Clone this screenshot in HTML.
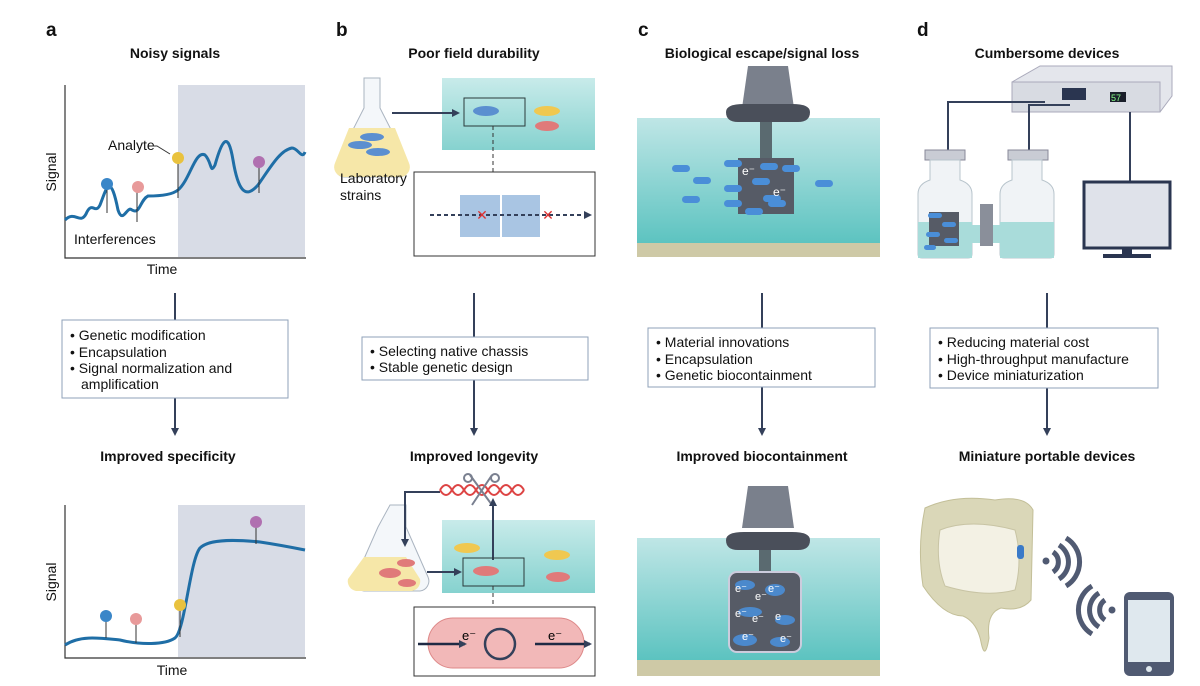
<!DOCTYPE html>
<html><head><meta charset="utf-8"><style>
html,body{margin:0;padding:0;background:#fff;}
svg{display:block;font-family:"Liberation Sans",Arial,sans-serif;}
.t{font-weight:bold;font-size:14px;text-anchor:middle;fill:#111;}
.L{font-weight:bold;font-size:19px;fill:#111;}
.s{font-size:14px;fill:#111;}
.b{font-size:14px;fill:#111;}
</style></head><body>
<svg width="1200" height="686" viewBox="0 0 1200 686" xmlns="http://www.w3.org/2000/svg">
<defs>
<linearGradient id="w" x1="0" y1="0" x2="0" y2="1"><stop offset="0" stop-color="#bfe6e6"/><stop offset="1" stop-color="#5cc3c0"/></linearGradient>
<linearGradient id="w2" x1="0" y1="0" x2="0" y2="1"><stop offset="0" stop-color="#c8ebea"/><stop offset="1" stop-color="#86d2cf"/></linearGradient>
<marker id="ar" markerWidth="8" markerHeight="8" refX="6" refY="4" orient="auto" markerUnits="userSpaceOnUse"><path d="M0,0 L8,4 L0,8z" fill="#34405a"/></marker>
</defs>
<text class="L" x="46" y="36">a</text><text class="L" x="336" y="36">b</text><text class="L" x="638" y="36">c</text><text class="L" x="917" y="36">d</text>
<text class="t" x="175" y="58">Noisy signals</text>
<text class="t" x="474" y="58">Poor field durability</text>
<text class="t" x="762" y="58">Biological escape/signal loss</text>
<text class="t" x="1047" y="58">Cumbersome devices</text>
<text class="t" x="168" y="461">Improved specificity</text>
<text class="t" x="474" y="461">Improved longevity</text>
<text class="t" x="762" y="461">Improved biocontainment</text>
<text class="t" x="1047" y="461">Miniature portable devices</text>

<!-- panel a top -->
<rect x="178" y="85" width="127" height="172" fill="#d8dce6"/>
<path d="M65,85 V258 H306" fill="none" stroke="#333" stroke-width="1.2"/>
<text class="s" x="56" y="172" transform="rotate(-90 56 172)" text-anchor="middle">Signal</text>
<text class="s" x="162" y="274" text-anchor="middle">Time</text>
<text class="s" x="74" y="244">Interferences</text>
<text class="s" x="108" y="150">Analyte</text>
<path d="M150,146 H157 L170,154" fill="none" stroke="#333"/>
<path d="M65,220 C75,210 80,225 86,214 C92,200 95,215 100,205 C106,190 110,170 118,210 C123,225 127,205 132,210 C140,215 140,200 148,196 C160,196 172,195 178,190 C190,180 195,150 205,155 C212,162 210,175 215,165 C222,140 228,130 233,160 C238,190 245,200 258,185 C270,168 280,150 292,148 C298,148 302,160 305,152" fill="none" stroke="#1f6ea6" stroke-width="3"/>
<g stroke="#333"><line x1="107" y1="186" x2="107" y2="213"/><line x1="137" y1="187" x2="137" y2="222"/><line x1="178" y1="160" x2="178" y2="198"/><line x1="259" y1="163" x2="259" y2="193"/></g>
<circle cx="107" cy="184" r="6" fill="#3a86c8"/><circle cx="138" cy="187" r="6" fill="#e89a9a"/><circle cx="178" cy="158" r="6" fill="#e9c23e"/><circle cx="259" cy="162" r="6" fill="#b070b0"/>

<!-- panel a bottom -->
<rect x="178" y="505" width="127" height="152" fill="#d8dce6"/>
<path d="M65,505 V658 H306" fill="none" stroke="#333" stroke-width="1.2"/>
<text class="s" x="56" y="582" transform="rotate(-90 56 582)" text-anchor="middle">Signal</text>
<text class="s" x="172" y="675" text-anchor="middle">Time</text>
<path d="M65,645 C80,635 100,638 120,640 C140,645 165,645 175,638 C185,630 190,560 200,548 C210,538 240,540 260,542 C280,545 295,548 305,550" fill="none" stroke="#1f6ea6" stroke-width="3"/>
<g stroke="#333"><line x1="106" y1="617" x2="106" y2="638"/><line x1="136" y1="620" x2="136" y2="643"/><line x1="180" y1="605" x2="180" y2="637"/><line x1="256" y1="523" x2="256" y2="544"/></g>
<circle cx="106" cy="616" r="6" fill="#3a86c8"/><circle cx="136" cy="619" r="6" fill="#e89a9a"/><circle cx="180" cy="605" r="6" fill="#e9c23e"/><circle cx="256" cy="522" r="6" fill="#b070b0"/>

<!-- connectors & boxes -->
<g stroke="#34405a" stroke-width="2" fill="none">
<line x1="175" y1="293" x2="175" y2="434" marker-end="url(#ar)"/>
<line x1="474" y1="293" x2="474" y2="434" marker-end="url(#ar)"/>
<line x1="762" y1="293" x2="762" y2="434" marker-end="url(#ar)"/>
<line x1="1047" y1="293" x2="1047" y2="434" marker-end="url(#ar)"/>
</g>
<g fill="#fff" stroke="#8fa2b8" stroke-width="1">
<rect x="62" y="320" width="226" height="78"/>
<rect x="362" y="337" width="226" height="43"/>
<rect x="648" y="328" width="227" height="59"/>
<rect x="930" y="328" width="228" height="60"/>
</g>
<text class="b" x="70" y="340">• Genetic modification</text>
<text class="b" x="70" y="357">• Encapsulation</text>
<text class="b" x="70" y="373">• Signal normalization and</text>
<text class="b" x="81" y="389">amplification</text>
<text class="b" x="370" y="356">• Selecting native chassis</text>
<text class="b" x="370" y="372">• Stable genetic design</text>
<text class="b" x="656" y="347">• Material innovations</text>
<text class="b" x="656" y="364">• Encapsulation</text>
<text class="b" x="656" y="380">• Genetic biocontainment</text>
<text class="b" x="938" y="347">• Reducing material cost</text>
<text class="b" x="938" y="364">• High-throughput manufacture</text>
<text class="b" x="938" y="380">• Device miniaturization</text>

<!-- panel b top -->
<path d="M364,78 h16 v30 l28,55 a10,10 0 0 1 -8,14 h-56 a10,10 0 0 1 -8,-14 l28,-55z" fill="#f4f7fa" stroke="#aab4c0"/>
<path d="M349,128 h46 l14,35 a10,10 0 0 1 -8,14 h-58 a10,10 0 0 1 -8,-14z" fill="#f6e7a8"/>
<ellipse cx="372" cy="137" rx="12" ry="4" fill="#5b8fd0"/><ellipse cx="360" cy="145" rx="12" ry="4" fill="#5b8fd0"/><ellipse cx="378" cy="152" rx="12" ry="4" fill="#5b8fd0"/>
<text class="s" x="340" y="183">Laboratory</text><text class="s" x="340" y="200">strains</text>
<rect x="442" y="78" width="153" height="72" fill="url(#w2)"/>
<line x1="392" y1="113" x2="458" y2="113" stroke="#34405a" stroke-width="2" marker-end="url(#ar)"/>
<rect x="464" y="98" width="61" height="28" fill="none" stroke="#2a3a3a"/>
<ellipse cx="486" cy="111" rx="13" ry="5" fill="#5b8fd0"/>
<ellipse cx="547" cy="111" rx="13" ry="5" fill="#f0c850"/><ellipse cx="547" cy="126" rx="12" ry="5" fill="#e07a7a"/>
<line x1="493" y1="126" x2="493" y2="172" stroke="#333" stroke-dasharray="4 3"/>
<rect x="414" y="172" width="181" height="84" fill="#fff" stroke="#333"/>
<rect x="460" y="195" width="40" height="42" fill="#a9c5e3"/><rect x="502" y="195" width="38" height="42" fill="#a9c5e3"/>
<path d="M430,215 H590" stroke="#34405a" stroke-width="2" stroke-dasharray="4 3" marker-end="url(#ar)"/>
<text x="482" y="220" fill="#d33" font-size="14" text-anchor="middle">✕</text><text x="548" y="220" fill="#d33" font-size="14" text-anchor="middle">✕</text>

<!-- panel b bottom -->
<path d="M390,505 h16 v22 l22,50 a10,10 0 0 1 -8,14 h-56 a10,10 0 0 1 -8,-14 l22,-50z" fill="#f4f7fa" stroke="#aab4c0"/>
<path d="M364,557 h42 l14,22 a10,10 0 0 1 -8,12 h-56 a10,10 0 0 1 -8,-12z" fill="#f6e7a8"/>
<ellipse cx="390" cy="573" rx="11" ry="5" fill="#e07a7a"/><ellipse cx="406" cy="563" rx="9" ry="4" fill="#e07a7a"/><ellipse cx="407" cy="583" rx="9" ry="4" fill="#e07a7a"/>
<rect x="442" y="520" width="153" height="73" fill="url(#w2)"/>
<path d="M440,492 H405 V545" fill="none" stroke="#34405a" stroke-width="2" marker-end="url(#ar)"/>
<g fill="none" stroke="#d44" stroke-width="2"><path d="M440,490 q6,-10 12,0 t12,0 t12,0 t12,0 t12,0 t12,0 t12,0"/><path d="M440,490 q6,10 12,0 t12,0 t12,0 t12,0 t12,0 t12,0 t12,0"/></g>
<g stroke="#7a8090" stroke-width="2" fill="none"><line x1="470" y1="475" x2="492" y2="505"/><line x1="492" y1="475" x2="472" y2="505"/><circle cx="468" cy="478" r="4"/><circle cx="495" cy="478" r="4"/></g>
<line x1="427" y1="572" x2="460" y2="572" stroke="#34405a" stroke-width="2" marker-end="url(#ar)"/>
<line x1="493" y1="560" x2="493" y2="500" stroke="#34405a" stroke-width="2" marker-end="url(#ar)"/>
<rect x="463" y="558" width="61" height="28" fill="none" stroke="#2a3a3a"/>
<ellipse cx="486" cy="571" rx="13" ry="5" fill="#e07a7a"/>
<ellipse cx="467" cy="548" rx="13" ry="5" fill="#f0c850"/><ellipse cx="557" cy="555" rx="13" ry="5" fill="#f0c850"/><ellipse cx="558" cy="577" rx="12" ry="5" fill="#e07a7a"/>
<line x1="493" y1="586" x2="493" y2="607" stroke="#333" stroke-dasharray="4 3"/>
<rect x="414" y="607" width="181" height="69" fill="#fff" stroke="#333"/>
<rect x="428" y="618" width="156" height="50" rx="25" fill="#f2b8b8" stroke="#d88"/>
<line x1="418" y1="644" x2="465" y2="644" stroke="#1f2a44" stroke-width="2.5" marker-end="url(#ar)"/>
<line x1="535" y1="644" x2="590" y2="644" stroke="#1f2a44" stroke-width="2.5" marker-end="url(#ar)"/>
<circle cx="500" cy="644" r="15" fill="none" stroke="#34405a" stroke-width="2.5"/>
<text x="462" y="640" font-size="13">e⁻</text><text x="548" y="640" font-size="13">e⁻</text>

<!-- panel c top -->
<rect x="637" y="118" width="243" height="126" fill="url(#w)"/>
<rect x="637" y="243" width="243" height="14" fill="#cec9a6"/>
<path d="M748,66 h40 l6,42 h-52z" fill="#7a808c"/>
<path d="M726,112 q0,-8 18,-8 h48 q18,0 18,8 q0,10 -12,10 h-60 q-12,0 -12,-10z" fill="#4a4f5a"/>
<rect x="760" y="122" width="12" height="36" fill="#5a6a70"/>
<rect x="738" y="158" width="56" height="56" fill="#565b66"/>
<g fill="#4a8ed8"><rect x="672" y="165" width="18" height="7" rx="3.5"/><rect x="693" y="177" width="18" height="7" rx="3.5"/><rect x="682" y="196" width="18" height="7" rx="3.5"/><rect x="724" y="160" width="18" height="7" rx="3.5"/><rect x="760" y="163" width="18" height="7" rx="3.5"/><rect x="724" y="185" width="18" height="7" rx="3.5"/><rect x="752" y="178" width="18" height="7" rx="3.5"/><rect x="763" y="195" width="18" height="7" rx="3.5"/><rect x="724" y="200" width="18" height="7" rx="3.5"/><rect x="782" y="165" width="18" height="7" rx="3.5"/><rect x="815" y="180" width="18" height="7" rx="3.5"/><rect x="745" y="208" width="18" height="7" rx="3.5"/><rect x="768" y="200" width="18" height="7" rx="3.5"/></g>
<text x="742" y="175" fill="#fff" font-size="12">e⁻</text><text x="773" y="196" fill="#fff" font-size="12">e⁻</text>

<!-- panel c bottom -->
<rect x="637" y="538" width="243" height="122" fill="url(#w)"/>
<rect x="637" y="660" width="243" height="16" fill="#cec9a6"/>
<path d="M748,486 h40 l6,42 h-52z" fill="#7a808c"/>
<path d="M726,540 q0,-8 18,-8 h48 q18,0 18,8 q0,10 -12,10 h-60 q-12,0 -12,-10z" fill="#4a4f5a"/>
<rect x="759" y="550" width="12" height="22" fill="#5a6a70"/>
<rect x="729" y="572" width="72" height="80" rx="8" fill="#565b66" stroke="#ccd" stroke-width="2"/>
<g fill="#4a8ed8" opacity="0.9"><ellipse cx="745" cy="585" rx="10" ry="5"/><ellipse cx="775" cy="590" rx="10" ry="6"/><ellipse cx="750" cy="612" rx="12" ry="5"/><ellipse cx="785" cy="620" rx="10" ry="5"/><ellipse cx="745" cy="640" rx="12" ry="6"/><ellipse cx="780" cy="642" rx="10" ry="5"/></g>
<g fill="#fff" font-size="11"><text x="735" y="592">e⁻</text><text x="755" y="600">e⁻</text><text x="752" y="622">e⁻</text><text x="735" y="617">e⁻</text><text x="775" y="620">e</text><text x="742" y="640">e⁻</text><text x="780" y="642">e⁻</text><text x="768" y="592">e⁻</text></g>

<!-- panel d top -->
<path d="M1012,82 L1040,66 H1172 V96 L1160,112 H1012z" fill="#e4e6ec" stroke="#aab"/>
<rect x="1012" y="82" width="148" height="30" fill="#d8dbe2" stroke="#aab"/>
<rect x="1062" y="88" width="24" height="12" fill="#2a3550"/>
<rect x="1110" y="92" width="16" height="10" fill="#1a1f2a"/><text x="1111" y="101" font-size="9" fill="#8f8">57</text>
<path d="M1045,102 H948 V225" fill="none" stroke="#34405a" stroke-width="2"/>
<path d="M1070,105 H1029 V240" fill="none" stroke="#34405a" stroke-width="2"/>
<line x1="1130" y1="112" x2="1130" y2="182" stroke="#34405a" stroke-width="2"/>
<rect x="925" y="150" width="40" height="10" fill="#c9ccd4" stroke="#889"/>
<rect x="1008" y="150" width="40" height="10" fill="#c9ccd4" stroke="#889"/>
<path d="M930,160 h30 v20 q12,4 12,14 v60 q0,4 -4,4 h-46 q-4,0 -4,-4 v-60 q0,-10 12,-14z" fill="#f0f3f6" stroke="#b8c4cc"/>
<path d="M1012,160 h30 v20 q12,4 12,14 v60 q0,4 -4,4 h-46 q-4,0 -4,-4 v-60 q0,-10 12,-14z" fill="#f0f3f6" stroke="#b8c4cc"/>
<rect x="918" y="222" width="54" height="36" fill="#a9dcda"/><rect x="1000" y="222" width="54" height="36" fill="#a9dcda"/>
<rect x="972" y="225" width="28" height="18" fill="#a9dcda"/>
<rect x="980" y="204" width="13" height="42" fill="#8a8f9a"/>
<rect x="929" y="212" width="30" height="34" fill="#565b66"/>
<g fill="#4a8ed8"><rect x="928" y="213" width="14" height="5" rx="2.5"/><rect x="942" y="222" width="14" height="5" rx="2.5"/><rect x="926" y="232" width="14" height="5" rx="2.5"/><rect x="944" y="238" width="14" height="5" rx="2.5"/><rect x="924" y="245" width="12" height="5" rx="2.5"/></g>
<rect x="1084" y="182" width="86" height="66" fill="#dfe2ea" stroke="#2a3550" stroke-width="3"/>
<rect x="1122" y="248" width="10" height="7" fill="#2a3550"/><rect x="1103" y="254" width="48" height="4" fill="#2a3550"/>

<!-- panel d bottom -->
<path d="M925,508 q30,-14 70,-8 q30,-5 38,10 l-2,90 q-10,12 -30,8 q-15,5 -12,30 q-4,24 -8,4 q-4,-20 -18,-26 q-20,0 -40,-30 q-6,-40 2,-78z" fill="#dad7b8" stroke="#c3bf98"/>
<path d="M940,530 q30,-12 75,0 q8,30 0,60 q-30,8 -70,-4 q-10,-25 -5,-56z" fill="#f3f1e4" stroke="#c8c4a4"/>
<rect x="1017" y="545" width="7" height="14" rx="3" fill="#3a7ac8"/>
<circle cx="1046" cy="561" r="3.5" fill="#505a72"/>
<g fill="none" stroke="#505a72" stroke-width="5"><path d="M1053,552 a12,12 0 0 1 0,20"/><path d="M1059,545 a20,20 0 0 1 0,34"/><path d="M1066,538 a28,28 0 0 1 0,48"/></g>
<circle cx="1112" cy="610" r="3.5" fill="#505a72"/>
<g fill="none" stroke="#505a72" stroke-width="5"><path d="M1105,600 a12,12 0 0 0 0,20"/><path d="M1099,593 a20,20 0 0 0 0,34"/><path d="M1092,586 a28,28 0 0 0 0,48"/></g>
<rect x="1124" y="592" width="50" height="84" rx="6" fill="#505a72"/>
<rect x="1128" y="600" width="42" height="62" fill="#dfe8ee"/>
<circle cx="1149" cy="669" r="3" fill="#dfe8ee"/>
</svg>
</body></html>
